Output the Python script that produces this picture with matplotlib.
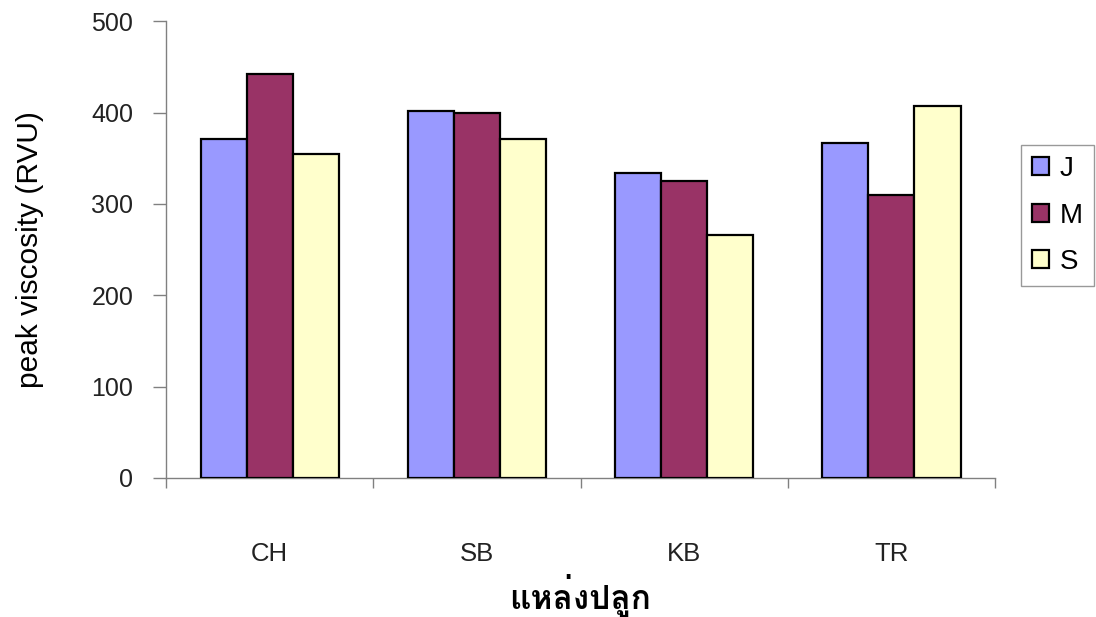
import matplotlib
matplotlib.use("Agg")
import matplotlib.pyplot as plt
from matplotlib import font_manager
from matplotlib.ft2font import FT2Font
import numpy as np

sites = ["CH", "SB", "KB", "TR"]
series = ["J", "M", "S"]
peak_j = [371, 402, 334, 367]
peak_m = [442, 400, 325, 310]
peak_s = [355, 371, 266, 407]
colors = ["#9999FF", "#993366", "#FFFFCC"]
xlabel = "แหล่งปลูก"
ylabel = "peak viscosity (RVU)"


def find_family(ch):
    # first installed font that actually has a glyph for ch
    for f in font_manager.fontManager.ttflist:
        try:
            if ord(ch) in FT2Font(f.fname).get_charmap():
                return f.name
        except Exception:
            pass
    return None


thai = find_family("แ")
families = ["Liberation Sans", "DejaVu Sans"]
if thai:
    families = ["Liberation Sans", thai, "DejaVu Sans"]
plt.rcParams["font.family"] = families

fig = plt.figure(figsize=(10.96, 6.17), dpi=100)
ax = fig.add_axes([0.1515, 0.2253, 0.7564, 0.7403])

x = np.arange(len(sites))
w = 1 / 4.5
for i, (name, vals) in enumerate(zip(series, [peak_j, peak_m, peak_s])):
    ax.bar(x + (i - 1) * w, vals, w, color=colors[i], edgecolor="black",
           linewidth=1.6, label=name, zorder=3)

ax.set_xlim(-0.5, len(sites) - 0.5)
ax.set_ylim(0, 500)
ax.set_yticks(range(0, 501, 100))

ax.spines["top"].set_visible(False)
ax.spines["right"].set_visible(False)
for s in ["left", "bottom"]:
    ax.spines[s].set_color("#808080")
    ax.spines[s].set_linewidth(1)

ax.tick_params(axis="y", length=9.5, width=1, color="#808080",
               labelsize=18, labelcolor="#222222", pad=14)

# category boundaries get the tick marks, names sit in between
ax.set_xticks(np.arange(-0.5, len(sites), 1.0))
ax.set_xticklabels([])
ax.tick_params(axis="x", which="major", length=7, width=1, color="#808080")
ax.set_xticks(x, minor=True)
ax.set_xticklabels(sites, minor=True, fontsize=18.5, color="#222222")
ax.tick_params(axis="x", which="minor", length=0, pad=46)

ax.set_ylabel(ylabel, fontsize=21.5)
ax.yaxis.set_label_coords(-0.147, 0.5)
ax.set_xlabel(xlabel, fontsize=24, fontweight="bold")
ax.xaxis.set_label_coords(0.5, -0.21)

leg = ax.legend(loc="upper left", bbox_to_anchor=(0.9312, 0.765),
                bbox_transform=fig.transFigure, fontsize=20,
                frameon=True, fancybox=False, handlelength=0.62,
                handleheight=0.62, handletextpad=0.4, labelspacing=0.74,
                borderpad=0.4, borderaxespad=0)
leg.get_frame().set_edgecolor("#808080")
leg.get_frame().set_linewidth(1)

fig.savefig("out.png", dpi=100)
